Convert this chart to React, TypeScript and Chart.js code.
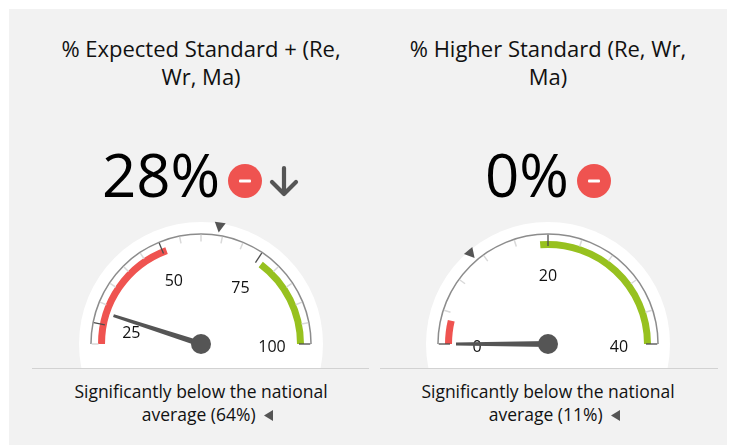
import React, { useEffect, useRef } from "react";
import { Chart, registerables } from "chart.js";

Chart.register(...registerables);

const FONT = "'Open Sans', sans-serif";
const DISK_RADIUS = 122;
const RIM_OUTER = 110.8;
const RIM_INNER = 109.3;
const ZONE_OUTER = 103;
const ZONE_INNER = 96;
const CANVAS = 260;

const titles = ["% Expected Standard + (Re, Wr, Ma)", "% Higher Standard (Re, Wr, Ma)"];
const scaleMins = [20, 0];
const scaleMaxes = [100, 40];
const majorTicks = [[25, 50, 75, 100], [0, 20, 40]];
const minorSteps = [5, 4];
const redZoneEnds = [51, 3];
const greenZoneStarts = [76.4, 19];
const values = [28, 0];
const nationalAverages = [64, 11];
const captions = ["Significantly below the national average (64%)", "Significantly below the national average (11%)"];
const trendArrow = [true, false];

const rad = (g: number, v: number) => Math.PI + ((v - scaleMins[g]) / (scaleMaxes[g] - scaleMins[g])) * Math.PI;

function gaugePlugin(g: number) {
  const min = scaleMins[g];
  const max = scaleMaxes[g];
  const polar = (c: number, v: number, r: number) => ({
    x: c + r * Math.cos(rad(g, v)),
    y: c + r * Math.sin(rad(g, v)),
  });
  return {
    id: "gauge" + g,
    beforeDatasetsDraw(chart: any) {
      const ctx = chart.ctx;
      const c = CANVAS / 2;
      ctx.save();
      ctx.fillStyle = "#ffffff";
      ctx.beginPath();
      ctx.arc(c, c, DISK_RADIUS, 0, Math.PI * 2);
      ctx.fill();
      ctx.restore();
    },
    afterDatasetsDraw(chart: any) {
      const ctx = chart.ctx;
      const c = CANVAS / 2;
      ctx.save();
      for (let v = min; v <= max; v += minorSteps[g]) {
        if (majorTicks[g].includes(v)) continue;
        const a = polar(c, v, RIM_INNER);
        const b = polar(c, v, 102.5);
        ctx.strokeStyle = "#d9d9d9";
        ctx.lineWidth = 1.5;
        ctx.beginPath();
        ctx.moveTo(a.x, a.y);
        ctx.lineTo(b.x, b.y);
        ctx.stroke();
      }
      for (const v of majorTicks[g]) {
        const a = polar(c, v, RIM_INNER);
        const b = polar(c, v, 98);
        ctx.strokeStyle = "#4d4d4d";
        ctx.lineWidth = 1.3;
        ctx.beginPath();
        ctx.moveTo(a.x, a.y);
        ctx.lineTo(b.x, b.y);
        ctx.stroke();
        const l = polar(c, v, 71);
        ctx.fillStyle = "#111111";
        ctx.font = "16px " + FONT;
        ctx.textAlign = "center";
        ctx.textBaseline = "middle";
        ctx.fillText(String(v), l.x, l.y + 3);
      }
      const ang = rad(g, nationalAverages[g]);
      const tip = polar(c, nationalAverages[g], 113);
      const baseMid = polar(c, nationalAverages[g], 123);
      const nx = -Math.sin(ang);
      const ny = Math.cos(ang);
      ctx.fillStyle = "#555555";
      ctx.beginPath();
      ctx.moveTo(tip.x, tip.y);
      ctx.lineTo(baseMid.x + nx * 5.5, baseMid.y + ny * 5.5);
      ctx.lineTo(baseMid.x - nx * 5.5, baseMid.y - ny * 5.5);
      ctx.closePath();
      ctx.fill();
      const n = polar(c, values[g], 92);
      const vang = rad(g, values[g]);
      const px = -Math.sin(vang);
      const py = Math.cos(vang);
      ctx.beginPath();
      ctx.moveTo(n.x + px * 1.5, n.y + py * 1.5);
      ctx.lineTo(n.x - px * 1.5, n.y - py * 1.5);
      ctx.lineTo(c - px * 3, c - py * 3);
      ctx.lineTo(c + px * 3, c + py * 3);
      ctx.closePath();
      ctx.fill();
      ctx.beginPath();
      ctx.arc(c, c, 10, 0, Math.PI * 2);
      ctx.fill();
      ctx.restore();
    },
  };
}

function Gauge({ g }: { g: number }) {
  const ref = useRef<HTMLCanvasElement>(null);
  useEffect(() => {
    const span = scaleMaxes[g] - scaleMins[g];
    const redSpan = redZoneEnds[g] - scaleMins[g];
    const greenSpan = scaleMaxes[g] - greenZoneStarts[g];
    const gapSpan = span - redSpan - greenSpan;
    const chart = new Chart(ref.current!, {
      type: "doughnut",
      data: {
        labels: ["below", "middle", "above", "hidden"],
        datasets: [
          { data: [span, span], backgroundColor: ["transparent", "transparent"], borderWidth: 0, weight: DISK_RADIUS - RIM_OUTER },
          { data: [span, span], backgroundColor: ["#8c8c8c", "transparent"], borderWidth: 0, weight: RIM_OUTER - RIM_INNER },
          { data: [span, span], backgroundColor: ["transparent", "transparent"], borderWidth: 0, weight: RIM_INNER - ZONE_OUTER },
          {
            data: [redSpan, gapSpan, greenSpan, span],
            backgroundColor: ["#ef5350", "transparent", "#97c11f", "transparent"],
            borderWidth: 0,
            weight: ZONE_OUTER - ZONE_INNER,
          },
          { data: [span, span], backgroundColor: ["transparent", "transparent"], borderWidth: 0, weight: ZONE_INNER },
        ],
      },
      options: {
        responsive: false,
        animation: false,
        rotation: -90,
        cutout: 0,
        radius: DISK_RADIUS,
        layout: { padding: 0 },
        events: [],
        plugins: { legend: { display: false }, tooltip: { enabled: false } },
      },
      plugins: [gaugePlugin(g)],
    } as any);
    return () => chart.destroy();
  }, [g]);
  return <canvas ref={ref} width={CANVAS} height={CANVAS} style={{ display: "block", width: CANVAS, height: CANVAS }} />;
}

const abs = (o: React.CSSProperties): React.CSSProperties => ({ position: "absolute", ...o });

function Column({ g, cx, lineLeft, lineWidth }: { g: number; cx: number; lineLeft: number; lineWidth: number }) {
  const wide = 300;
  return (
    <>
      <div style={abs({ left: cx - wide / 2, top: 34, width: wide, textAlign: "center", fontSize: 22, lineHeight: "28px", color: "#111" })}>
        {titles[g]}
      </div>
      <div style={abs({ left: cx - wide / 2, top: 136, width: wide, height: 76, display: "flex", justifyContent: "center", alignItems: "center", color: "#000" })}>
        <span style={{ fontSize: 60, lineHeight: "76px" }}>{values[g]}%</span>
        <svg width={34} height={34} style={{ marginLeft: 8, marginTop: 14 }}>
          <circle cx={17} cy={17} r={17} fill="#ef5350" />
          <rect x={11} y={15.5} width={12} height={3} rx={1} fill="#fff" />
        </svg>
        {trendArrow[g] && (
          <svg width={32} height={34} style={{ marginLeft: 6, marginTop: 14 }}>
            <path d="M16 4 V29 M4 18 L16 30 L28 18" stroke="#555" strokeWidth={4.2} fill="none" strokeLinecap="round" strokeLinejoin="round" />
          </svg>
        )}
      </div>
      <div style={abs({ left: cx - CANVAS / 2, top: 214, width: CANVAS, height: 154, overflow: "hidden" })}>
        <Gauge g={g} />
      </div>
      <div style={abs({ left: lineLeft, top: 368, width: lineWidth, height: 1, background: "#d2d2d2" })} />
      <div style={abs({ left: cx - 140, top: 380, width: 280, textAlign: "center", fontSize: 17.5, lineHeight: "23px", color: "#111" })}>
        {captions[g]}{" "}
        <svg width={10} height={13} style={{ marginLeft: 3, marginRight: -13, verticalAlign: -1 }}>
          <path d="M10 1 V12 L1 6.5 Z" fill="#555" />
        </svg>
      </div>
    </>
  );
}

export default function App() {
  return (
    <div style={{ position: "absolute", left: 0, top: 0, width: 736, height: 445, background: "#fff", overflow: "hidden", fontFamily: FONT }}>
      <div style={abs({ left: 9, top: 9, width: 718, height: 436, background: "#f2f2f2" })} />
      <Column g={0} cx={201} lineLeft={32} lineWidth={337} />
      <Column g={1} cx={548} lineLeft={380} lineWidth={338} />
    </div>
  );
}
